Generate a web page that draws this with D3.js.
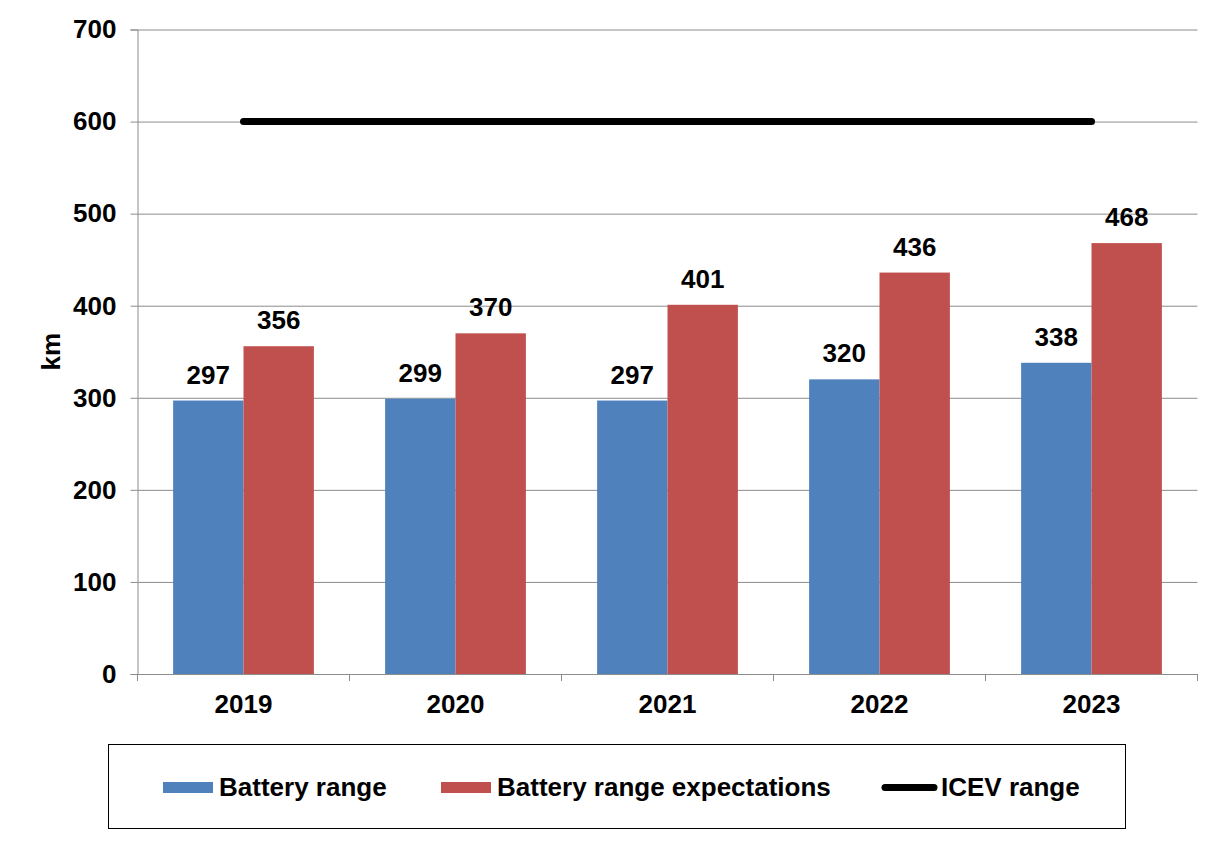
<!DOCTYPE html>
<html>
<head>
<meta charset="utf-8">
<script src="https://cdn.jsdelivr.net/npm/d3@7/dist/d3.min.js"></script>
<style>
  html, body { margin: 0; padding: 0; background: #fff; }
  svg { display: block; }
  text { font-family: "Liberation Sans", Arial, sans-serif; font-weight: bold; fill: #000; }
</style>
</head>
<body>
<svg id="chart" width="1229" height="844"></svg>
<script>
const categories = ["2019", "2020", "2021", "2022", "2023"];
const seriesNames = ["Battery range", "Battery range expectations"];
const batteryRange = [297, 299, 297, 320, 338];
const batteryExpectations = [356, 370, 401, 436, 468];
const icevRange = [600, 600, 600, 600, 600];
const yTicks = [0, 100, 200, 300, 400, 500, 600, 700];
const seriesColors = ["#4F81BD", "#C0504D"];
const lineName = "ICEV range";

const FS = "26px";
const svg = d3.select("#chart");
const plot = { left: 137.5, right: 1197.5, top: 29.5, bottom: 674 };

const y = d3.scaleLinear().domain([0, 700]).range([plot.bottom, plot.top]);
const x0 = d3.scaleBand().domain(categories).range([plot.left, plot.right]).padding(0);
const bw = x0.bandwidth();
const pad = bw * 0.168;
const x1 = d3.scaleBand().domain(seriesNames).range([pad, bw - pad]).padding(0);

// gridlines
const grid = svg.append("g")
  .attr("transform", `translate(${plot.left},0)`)
  .call(d3.axisLeft(y).tickValues(yTicks).tickSize(-(plot.right - plot.left)).tickFormat(""));
grid.select(".domain").remove();
grid.selectAll("line").attr("stroke", "#8c8c8c").attr("stroke-width", 1);

// y axis
const yAxis = svg.append("g")
  .attr("transform", `translate(${plot.left},0)`)
  .call(d3.axisLeft(y).tickValues(yTicks).tickSize(7).tickPadding(14).tickFormat(d3.format("d")));
yAxis.select(".domain").attr("stroke", "#8c8c8c").attr("stroke-width", 1);
yAxis.selectAll(".tick line").attr("stroke", "#8c8c8c");
yAxis.selectAll("text").style("font-size", FS).style("font-family", "Liberation Sans, Arial, sans-serif").style("font-weight", "bold").attr("fill", "#000");

// bars
const data = categories.map((c, i) => ({ cat: c, vals: [batteryRange[i], batteryExpectations[i]] }));
const groups = svg.append("g").selectAll("g").data(data).join("g")
  .attr("transform", d => `translate(${x0(d.cat)},0)`);
groups.selectAll("rect").data(d => d.vals.map((v, j) => ({ name: seriesNames[j], v, j })))
  .join("rect")
  .attr("x", d => x1(d.name))
  .attr("width", x1.bandwidth())
  .attr("y", d => y(d.v))
  .attr("height", d => y(0) - y(d.v))
  .attr("fill", d => seriesColors[d.j]);
groups.selectAll("text.lbl").data(d => d.vals.map((v, j) => ({ name: seriesNames[j], v, j })))
  .join("text")
  .attr("class", "lbl")
  .attr("x", d => x1(d.name) + x1.bandwidth() / 2)
  .attr("y", d => y(d.v) - 17)
  .attr("text-anchor", "middle")
  .style("font-size", FS)
  .text(d => d.v);

// x axis
const xAxis = svg.append("g")
  .attr("transform", `translate(0,${plot.bottom})`)
  .call(d3.axisBottom(x0).tickSize(0).tickPadding(21));
xAxis.select(".domain").attr("stroke", "#8c8c8c").attr("stroke-width", 1);
xAxis.selectAll("text").style("font-size", FS).style("font-family", "Liberation Sans, Arial, sans-serif").style("font-weight", "bold").attr("fill", "#000");
// boundary ticks between categories
const bounds = categories.map(c => x0(c)).concat([plot.right]);
svg.append("g").selectAll("line").data(bounds).join("line")
  .attr("x1", d => d).attr("x2", d => d)
  .attr("y1", plot.bottom).attr("y2", plot.bottom + 7)
  .attr("stroke", "#8c8c8c").attr("stroke-width", 1);

// ICEV line
const line = d3.line().x((d, i) => x0(categories[i]) + bw / 2).y(d => y(d));
svg.append("path")
  .datum(icevRange)
  .attr("d", line)
  .attr("fill", "none")
  .attr("stroke", "#000")
  .attr("stroke-width", 7)
  .attr("stroke-linecap", "round");

// y title
svg.append("text")
  .attr("transform", `translate(60,${(plot.top + plot.bottom) / 2}) rotate(-90)`)
  .attr("text-anchor", "middle")
  .style("font-size", FS)
  .text("km");

// legend
const lg = svg.append("g");
lg.append("rect").attr("x", 108.5).attr("y", 744.5).attr("width", 1017).attr("height", 84)
  .attr("fill", "#fff").attr("stroke", "#000").attr("stroke-width", 1);
const legendItems = [
  { name: seriesNames[0], type: "rect", color: seriesColors[0], x: 163, tx: 219 },
  { name: seriesNames[1], type: "rect", color: seriesColors[1], x: 441, tx: 497 },
  { name: lineName, type: "line", color: "#000", x: 882, tx: 941 }
];
legendItems.forEach(it => {
  if (it.type === "rect") {
    lg.append("rect").attr("x", it.x).attr("y", 782).attr("width", 50).attr("height", 11).attr("fill", it.color);
  } else {
    lg.append("line").attr("x1", it.x + 3).attr("x2", it.x + 52).attr("y1", 787.5).attr("y2", 787.5)
      .attr("stroke", it.color).attr("stroke-width", 7).attr("stroke-linecap", "round");
  }
  lg.append("text").attr("x", it.tx).attr("y", 796).style("font-size", FS).text(it.name);
});
</script>
</body>
</html>
